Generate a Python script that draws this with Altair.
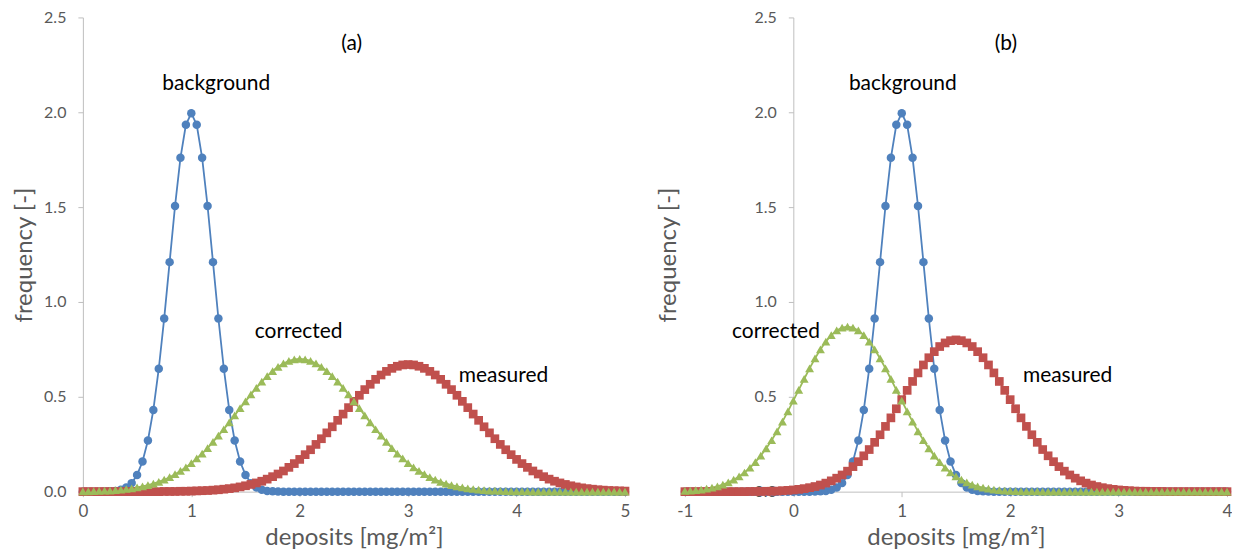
import altair as alt
import pandas as pd

# ---------------- data ----------------
x_a = [0.00, 0.05, 0.10, 0.15, 0.20, 0.25, 0.30, 0.35, 0.40, 0.45,
       0.50, 0.55, 0.60, 0.65, 0.70, 0.75, 0.80, 0.85, 0.90, 0.95,
       1.00, 1.05, 1.10, 1.15, 1.20, 1.25, 1.30, 1.35, 1.40, 1.45,
       1.50, 1.55, 1.60, 1.65, 1.70, 1.75, 1.80, 1.85, 1.90, 1.95,
       2.00, 2.05, 2.10, 2.15, 2.20, 2.25, 2.30, 2.35, 2.40, 2.45,
       2.50, 2.55, 2.60, 2.65, 2.70, 2.75, 2.80, 2.85, 2.90, 2.95,
       3.00, 3.05, 3.10, 3.15, 3.20, 3.25, 3.30, 3.35, 3.40, 3.45,
       3.50, 3.55, 3.60, 3.65, 3.70, 3.75, 3.80, 3.85, 3.90, 3.95,
       4.00, 4.05, 4.10, 4.15, 4.20, 4.25, 4.30, 4.35, 4.40, 4.45,
       4.50, 4.55, 4.60, 4.65, 4.70, 4.75, 4.80, 4.85, 4.90, 4.95,
       5.00]

background_a = [0, 0, 0, 0, 0.001, 0.002, 0.004, 0.010, 0.022, 0.045,
                0.088, 0.159, 0.270, 0.431, 0.648, 0.913, 1.210, 1.506, 1.760, 1.934,
                1.995, 1.934, 1.760, 1.506, 1.210, 0.913, 0.648, 0.431, 0.270, 0.159,
                0.088, 0.045, 0.022, 0.010, 0.004, 0.002, 0.001, 0, 0, 0,
                0, 0, 0, 0, 0, 0, 0, 0, 0, 0,
                0, 0, 0, 0, 0, 0, 0, 0, 0, 0,
                0, 0, 0, 0, 0, 0, 0, 0, 0, 0,
                0, 0, 0, 0, 0, 0, 0, 0, 0, 0,
                0, 0, 0, 0, 0, 0, 0, 0, 0, 0,
                0, 0, 0, 0, 0, 0, 0, 0, 0, 0,
                0]

measured_a = [0, 0, 0, 0, 0, 0, 0, 0, 0, 0,
              0, 0, 0, 0, 0, 0.001, 0.001, 0.001, 0.002, 0.002,
              0.003, 0.004, 0.005, 0.006, 0.008, 0.010, 0.013, 0.016, 0.020, 0.025,
              0.031, 0.038, 0.046, 0.055, 0.066, 0.079, 0.093, 0.109, 0.128, 0.148,
              0.170, 0.195, 0.221, 0.249, 0.279, 0.310, 0.342, 0.376, 0.409, 0.443,
              0.476, 0.508, 0.538, 0.566, 0.592, 0.615, 0.634, 0.650, 0.661, 0.668,
              0.670, 0.668, 0.661, 0.650, 0.634, 0.615, 0.592, 0.566, 0.538, 0.508,
              0.476, 0.443, 0.409, 0.376, 0.342, 0.310, 0.279, 0.249, 0.221, 0.195,
              0.170, 0.148, 0.128, 0.109, 0.093, 0.079, 0.066, 0.055, 0.046, 0.038,
              0.031, 0.025, 0.020, 0.016, 0.013, 0.010, 0.008, 0.006, 0.005, 0.004,
              0.003]

corrected_a = [0.001, 0.002, 0.003, 0.004, 0.005, 0.006, 0.008, 0.011, 0.014, 0.017,
               0.022, 0.028, 0.034, 0.042, 0.052, 0.063, 0.076, 0.092, 0.109, 0.128,
               0.150, 0.175, 0.201, 0.230, 0.262, 0.295, 0.329, 0.365, 0.402, 0.440,
               0.476, 0.513, 0.547, 0.580, 0.609, 0.636, 0.658, 0.676, 0.689, 0.697,
               0.700, 0.697, 0.689, 0.676, 0.658, 0.636, 0.609, 0.580, 0.547, 0.513,
               0.476, 0.440, 0.402, 0.365, 0.329, 0.295, 0.262, 0.230, 0.201, 0.175,
               0.150, 0.128, 0.109, 0.092, 0.076, 0.063, 0.052, 0.042, 0.034, 0.028,
               0.022, 0.017, 0.014, 0.011, 0.008, 0.006, 0.005, 0.004, 0.003, 0.002,
               0.001, 0.001, 0.001, 0, 0, 0, 0, 0, 0, 0,
               0, 0, 0, 0, 0, 0, 0, 0, 0, 0,
               0]

x_b = [-1.00, -0.95, -0.90, -0.85, -0.80, -0.75, -0.70, -0.65, -0.60, -0.55,
       -0.50, -0.45, -0.40, -0.35, -0.30, -0.25, -0.20, -0.15, -0.10, -0.05,
       0.00, 0.05, 0.10, 0.15, 0.20, 0.25, 0.30, 0.35, 0.40, 0.45,
       0.50, 0.55, 0.60, 0.65, 0.70, 0.75, 0.80, 0.85, 0.90, 0.95,
       1.00, 1.05, 1.10, 1.15, 1.20, 1.25, 1.30, 1.35, 1.40, 1.45,
       1.50, 1.55, 1.60, 1.65, 1.70, 1.75, 1.80, 1.85, 1.90, 1.95,
       2.00, 2.05, 2.10, 2.15, 2.20, 2.25, 2.30, 2.35, 2.40, 2.45,
       2.50, 2.55, 2.60, 2.65, 2.70, 2.75, 2.80, 2.85, 2.90, 2.95,
       3.00, 3.05, 3.10, 3.15, 3.20, 3.25, 3.30, 3.35, 3.40, 3.45,
       3.50, 3.55, 3.60, 3.65, 3.70, 3.75, 3.80, 3.85, 3.90, 3.95,
       4.00]

background_b = [0, 0, 0, 0, 0, 0, 0, 0, 0, 0,
                0, 0, 0, 0, 0, 0, 0, 0, 0, 0,
                0, 0, 0, 0, 0.001, 0.002, 0.004, 0.010, 0.022, 0.045,
                0.088, 0.159, 0.270, 0.431, 0.648, 0.913, 1.210, 1.506, 1.760, 1.934,
                1.995, 1.934, 1.760, 1.506, 1.210, 0.913, 0.648, 0.431, 0.270, 0.159,
                0.088, 0.045, 0.022, 0.010, 0.004, 0.002, 0.001, 0, 0, 0,
                0, 0, 0, 0, 0, 0, 0, 0, 0, 0,
                0, 0, 0, 0, 0, 0, 0, 0, 0, 0,
                0, 0, 0, 0, 0, 0, 0, 0, 0, 0,
                0, 0, 0, 0, 0, 0, 0, 0, 0, 0,
                0]

measured_b = [0, 0, 0, 0, 0, 0, 0, 0, 0, 0,
              0, 0, 0.001, 0.001, 0.001, 0.002, 0.002, 0.003, 0.005, 0.007,
              0.009, 0.012, 0.016, 0.021, 0.027, 0.035, 0.045, 0.057, 0.071, 0.088,
              0.108, 0.132, 0.158, 0.189, 0.222, 0.260, 0.300, 0.344, 0.389, 0.437,
              0.485, 0.534, 0.581, 0.626, 0.668, 0.706, 0.738, 0.765, 0.784, 0.796,
              0.800, 0.796, 0.784, 0.765, 0.738, 0.706, 0.668, 0.626, 0.581, 0.534,
              0.485, 0.437, 0.389, 0.344, 0.300, 0.260, 0.222, 0.189, 0.158, 0.132,
              0.108, 0.088, 0.071, 0.057, 0.045, 0.035, 0.027, 0.021, 0.016, 0.012,
              0.009, 0.007, 0.005, 0.003, 0.002, 0.002, 0.001, 0.001, 0.001, 0,
              0, 0, 0, 0, 0, 0, 0, 0, 0, 0,
              0]

corrected_b = [0.004, 0.006, 0.008, 0.011, 0.016, 0.021, 0.028, 0.037, 0.049, 0.063,
               0.080, 0.101, 0.126, 0.156, 0.190, 0.228, 0.271, 0.318, 0.369, 0.423,
               0.480, 0.537, 0.594, 0.650, 0.702, 0.750, 0.791, 0.825, 0.850, 0.865,
               0.870, 0.865, 0.850, 0.825, 0.791, 0.750, 0.702, 0.650, 0.594, 0.537,
               0.480, 0.423, 0.369, 0.318, 0.271, 0.228, 0.190, 0.156, 0.126, 0.101,
               0.080, 0.063, 0.049, 0.037, 0.028, 0.021, 0.016, 0.011, 0.008, 0.006,
               0.004, 0.003, 0.002, 0.001, 0.001, 0.001, 0, 0, 0, 0,
               0, 0, 0, 0, 0, 0, 0, 0, 0, 0,
               0, 0, 0, 0, 0, 0, 0, 0, 0, 0,
               0, 0, 0, 0, 0, 0, 0, 0, 0, 0,
               0]

series_names = ["background", "measured", "corrected"]
series_colors = ["#4F81BD", "#C0504D", "#9BBB59"]
series_shapes = ["circle", "square", "triangle-up"]
series_sizes = [72, 80, 95]

y_ticks = [0, 0.5, 1.0, 1.5, 2.0, 2.5]
x_ticks_a = [0, 1, 2, 3, 4, 5]
x_ticks_b = [-1, 0, 1, 2, 3, 4]

# annotation labels: text, x, y (data coordinates)
labels_a = [("(a)", 2.48, 2.36), ("background", 1.23, 2.15),
            ("corrected", 1.99, 0.84), ("measured", 3.88, 0.61)]
labels_b = [("(b)", 1.96, 2.36), ("background", 1.01, 2.15),
            ("corrected", -0.16, 0.84), ("measured", 2.53, 0.61)]

FONT = "Lato"
GREY = "#595959"
AXIS_LINE = "#BFBFBF"
W, H = 543, 475


def build_panel(xs, series_vals, x_dom, x_ticks, labels, y_offset, title_x):
    rows = []
    for name, vals in zip(series_names, series_vals):
        for i, (xv, yv) in enumerate(zip(xs, vals)):
            rows.append({"x": xv, "y": yv, "series": name, "idx": i})
    df = pd.DataFrame(rows)

    x_enc = alt.X(
        "x:Q",
        scale=alt.Scale(domain=x_dom, nice=False, zero=False),
        axis=alt.Axis(
            values=x_ticks, labelExpr="'' + datum.value", title="deposits [mg/m²]",
            grid=False, domainColor=AXIS_LINE, tickColor=AXIS_LINE, tickSize=5,
            labelFlush=False, labelOverlap=False, labelColor=GREY, labelFont=FONT,
            labelFontSize=17, labelPadding=7, titleFont=FONT, titleFontSize=24,
            titleFontWeight="normal", titleColor=GREY, titlePadding=6,
        ),
    )
    y_enc = alt.Y(
        "y:Q",
        scale=alt.Scale(domain=[0, 2.5], nice=False),
        axis=alt.Axis(
            values=y_ticks, format=".1f", title="frequency [-]", grid=False,
            domainColor=AXIS_LINE, tickColor=AXIS_LINE, tickSize=5, labelFlush=False,
            labelOverlap=False, labelColor=GREY, labelFont=FONT, labelFontSize=16,
            labelPadding=12, titleFont=FONT, titleFontSize=24, titleFontWeight="normal",
            titleColor=GREY, offset=y_offset, titleX=title_x,
        ),
    )
    color = alt.Color("series:N", scale=alt.Scale(domain=series_names, range=series_colors), legend=None)

    base = alt.Chart(df).encode(x=x_enc, y=y_enc, color=color)
    lines = base.mark_line(strokeWidth=1.8).encode(detail="series:N", order="idx:Q")
    points = base.mark_point(filled=True, opacity=1, strokeWidth=0).encode(
        shape=alt.Shape("series:N", scale=alt.Scale(domain=series_names, range=series_shapes), legend=None),
        size=alt.Size("series:N", scale=alt.Scale(domain=series_names, range=series_sizes), legend=None),
    )
    ldf = pd.DataFrame(labels, columns=["text", "x", "y"])
    texts = alt.Chart(ldf).mark_text(font=FONT, fontSize=21, color="#000000").encode(
        x="x:Q", y="y:Q", text="text:N"
    )
    return alt.layer(lines, points, texts).properties(width=W, height=H)


panel_a = build_panel(x_a, [background_a, measured_a, corrected_a], [0, 5], x_ticks_a, labels_a, 0, -46)
panel_b = build_panel(x_b, [background_b, measured_b, corrected_b], [-1, 4], x_ticks_b, labels_b,
                      -W / 5.0, -113)

chart = (
    alt.hconcat(panel_a, panel_b, spacing=60, bounds="flush")
    .configure_view(stroke=None)
    .properties(background="white", padding={"left": 5, "top": 1, "right": 0, "bottom": 0})
)

chart.save("out.html", embed_options={"renderer": "svg", "actions": False})
